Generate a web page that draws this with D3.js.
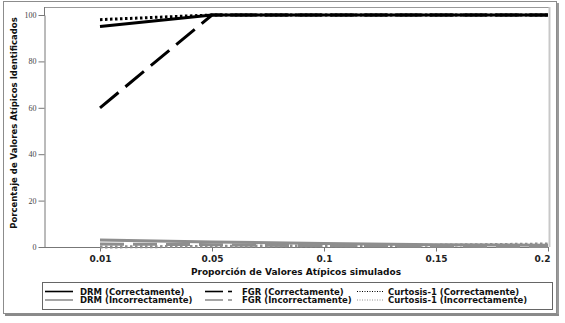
<!DOCTYPE html>
<html><head><meta charset="utf-8">
<script src="https://cdn.jsdelivr.net/npm/d3@7"></script>
<style>body{margin:0;background:#fff}svg{display:block}</style>
</head><body><svg id="c" width="565" height="323"></svg>
<script>
const categories = ["0.01","0.05","0.1","0.15","0.2"];
const yTicks = [0,20,40,60,80,100];
const drmCorrect = [95,100,100,100,100];
const fgrCorrect = [60,100,100,100,100];
const curtCorrect = [98,100,100,100,100];
const drmIncorrect = [3,2.2,1.5,1,0.8];
const fgrIncorrect = [1.3,1,0.5,0.3,0.2];
const curtIncorrect = [0,0.3,0.5,0.8,1.3];

const series = [
  {name:"DRM (Correctamente)", values:drmCorrect, color:"#000", dash:null, w:3, col:0, row:0},
  {name:"FGR (Correctamente)", values:fgrCorrect, color:"#000", dash:"24,9", w:3, col:1, row:0},
  {name:"Curtosis-1 (Correctamente)", values:curtCorrect, color:"#000", dash:"2.5,2.5", w:3, col:2, row:0},
  {name:"DRM (Incorrectamente)", values:drmIncorrect, color:"#8e8e8e", dash:null, w:3, col:0, row:1},
  {name:"FGR (Incorrectamente)", values:fgrIncorrect, color:"#8e8e8e", dash:"24,9", w:3, col:1, row:1},
  {name:"Curtosis-1 (Incorrectamente)", values:curtIncorrect, color:"#8e8e8e", dash:"2.5,2.5", w:3, col:2, row:1}
];

const svg = d3.select("#c");
// outer border with shadow
svg.append("rect").attr("x",3.5).attr("y",1.5).attr("width",553).attr("height",312).attr("fill","none").attr("stroke","#8c8c8c");
svg.append("line").attr("x1",558).attr("x2",558).attr("y1",3).attr("y2",316).attr("stroke","#9a9a9a").attr("stroke-width",2);
svg.append("line").attr("x1",5).attr("x2",559).attr("y1",315).attr("y2",315).attr("stroke","#8a8a8a").attr("stroke-width",2);

const x = d3.scalePoint().domain(categories).range([100,548]);
const y = d3.scaleLinear().domain([0,100]).range([247,15]);

// plot frame
svg.append("line").attr("x1",45).attr("x2",550).attr("y1",7.5).attr("y2",7.5).attr("stroke","#999");
svg.append("line").attr("x1",549.5).attr("x2",549.5).attr("y1",7).attr("y2",247).attr("stroke","#c8c8c8").attr("stroke-width",2);

// y axis
const ya = svg.append("g").attr("transform","translate(44.5,0)")
  .call(d3.axisLeft(y).tickValues(yTicks).tickSize(6).tickPadding(2).tickSizeOuter(0));
ya.select(".domain").attr("stroke","#777");
ya.selectAll(".tick line").attr("stroke","#777");
ya.selectAll("text").attr("font-family","Liberation Serif").attr("font-size",8).attr("fill","#444");
svg.append("line").attr("x1",44.5).attr("x2",44.5).attr("y1",7).attr("y2",16).attr("stroke","#777");

// x axis
const xa = svg.append("g").attr("transform","translate(0,247.5)")
  .call(d3.axisBottom(x).tickSize(4).tickSizeOuter(0));
xa.select(".domain").remove();
svg.append("line").attr("x1",44).attr("x2",549).attr("y1",247.5).attr("y2",247.5).attr("stroke","#777");
xa.selectAll(".tick line").attr("stroke","#777");
xa.selectAll("text").attr("font-family","DejaVu Sans").attr("font-weight","bold").attr("font-size",9).attr("fill","#222").attr("dy","0.85em");
xa.selectAll(".tick").filter(d=>d==="0.2").select("text").attr("text-anchor","end").attr("dx","2");

// axis titles
svg.append("text").attr("x",296).attr("y",275).attr("text-anchor","middle")
  .attr("font-family","DejaVu Sans").attr("font-weight","bold").attr("font-size",9).attr("fill","#111")
  .text("Proporción de Valores Atípicos simulados");
svg.append("text").attr("transform","translate(17,123) rotate(-90)").attr("text-anchor","middle")
  .attr("font-family","DejaVu Sans").attr("font-weight","bold").attr("font-size",8.5).attr("fill","#111")
  .text("Porcentaje de Valores Atípicos Identificados");

const line = d3.line().x((d,i)=>x(categories[i])).y(d=>y(d));
const order = [3,4,5,0,1,2];
order.forEach(k=>{
  const s = series[k];
  svg.append("path").datum(s.values).attr("d",line).attr("fill","none")
    .attr("stroke",s.color).attr("stroke-width",s.w).attr("stroke-dasharray",s.dash);
});

// legend
svg.append("rect").attr("x",42.5).attr("y",282.5).attr("width",510).attr("height",27).attr("fill","none").attr("stroke","#666");
const colX = [45,205,357];
const textX = [80,242,388];
series.forEach(s=>{
  const lx = colX[s.col], ly = 291.5 + s.row*8.5;
  const g = svg.append("g");
  if(s.col===1){
    g.append("line").attr("x1",lx).attr("x2",lx+18).attr("y1",ly).attr("y2",ly).attr("stroke",s.color).attr("stroke-width",1.6);
    g.append("line").attr("x1",lx+23).attr("x2",lx+27).attr("y1",ly).attr("y2",ly).attr("stroke",s.color).attr("stroke-width",1.6);
  } else if(s.col===2){
    g.append("line").attr("x1",lx).attr("x2",lx+27).attr("y1",ly).attr("y2",ly).attr("stroke",s.color)
      .attr("stroke-width",1).attr("stroke-dasharray","1,1.5");
  } else {
    g.append("line").attr("x1",lx).attr("x2",lx+28).attr("y1",ly).attr("y2",ly).attr("stroke",s.color).attr("stroke-width",1.6);
  }
  g.append("text").attr("x",textX[s.col]).attr("y",ly+3).attr("font-family","DejaVu Sans").attr("font-weight","bold")
    .attr("font-size",8.5).attr("fill","#111").text(s.name);
});
</script></body></html>
